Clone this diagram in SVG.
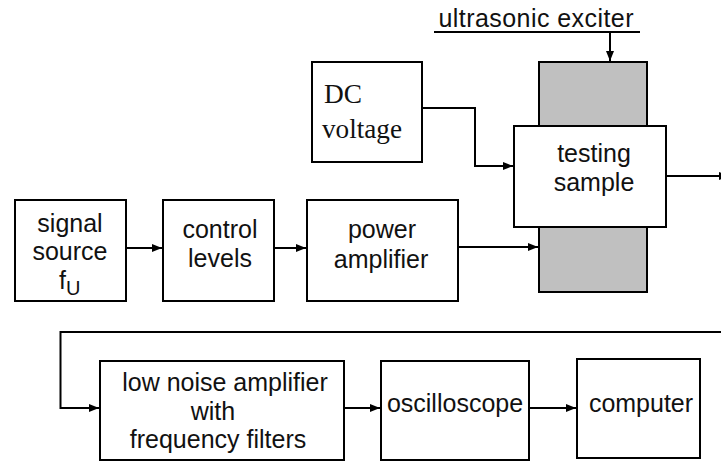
<svg xmlns="http://www.w3.org/2000/svg" width="721" height="462" viewBox="0 0 721 462">
<style>
.box{fill:#fff;stroke:#000;stroke-width:2}
.gray{fill:#c0c0c0;stroke:#000;stroke-width:2}
.t{font-family:"Liberation Sans",Arial,sans-serif;font-size:25px;fill:#111;text-anchor:middle}
.s{font-family:"Liberation Serif","Times New Roman",serif;font-size:27px;fill:#111}
.c{fill:none;stroke:#000;stroke-width:2}
</style>
<defs>
<marker id="ah" markerUnits="userSpaceOnUse" markerWidth="12" markerHeight="12" refX="10" refY="5" orient="auto">
<path d="M0,1 L10,5 L0,9 Z" fill="#000"/>
</marker>
</defs>
<rect width="721" height="462" fill="#fff"/>
<g id="exciter-label">
<text class="t" x="536" y="27" textLength="195" lengthAdjust="spacing">ultrasonic exciter</text>
<line x1="434" y1="32" x2="640" y2="32" stroke="#000" stroke-width="2"/>
</g>
<g id="exciter-body">
<rect class="gray" x="539" y="62" width="108" height="230"/>
</g>
<g id="dc-voltage">
<rect class="box" x="312" y="62" width="110" height="100"/>
<text class="s" x="324" y="103" textLength="38" lengthAdjust="spacingAndGlyphs">DC</text>
<text class="s" x="322" y="138" textLength="80" lengthAdjust="spacingAndGlyphs">voltage</text>
</g>
<g id="testing-sample">
<rect class="box" x="514" y="126" width="152" height="101"/>
<text class="t" x="594" y="162">testing</text>
<text class="t" x="594" y="191">sample</text>
</g>
<g id="signal-source">
<rect class="box" x="15" y="200" width="111" height="101"/>
<text class="t" x="70" y="232">signal</text>
<text class="t" x="70" y="260">source</text>
<text style="font-family:'Liberation Sans',Arial,sans-serif;font-size:25px;fill:#111" x="59" y="289">f<tspan font-size="20" dy="6">U</tspan></text>
</g>
<g id="control-levels">
<rect class="box" x="163" y="200" width="111" height="101"/>
<text class="t" x="220" y="238">control</text>
<text class="t" x="220" y="267">levels</text>
</g>
<g id="power-amplifier">
<rect class="box" x="307" y="200" width="151" height="101"/>
<text class="t" x="382" y="238">power</text>
<text class="t" x="381" y="268">amplifier</text>
</g>
<g id="low-noise-amplifier">
<rect class="box" x="100" y="361" width="244" height="99"/>
<text class="t" x="225" y="391">low noise amplifier</text>
<text class="t" x="213" y="420">with</text>
<text class="t" x="218" y="448">frequency filters</text>
</g>
<g id="oscilloscope">
<rect class="box" x="381" y="361" width="148" height="99"/>
<text class="t" x="455" y="412">oscilloscope</text>
</g>
<g id="computer">
<rect class="box" x="577" y="359" width="123" height="99"/>
<text class="t" x="641" y="412">computer</text>
</g>
<g id="connectors">
<path class="c" d="M126 248 H162" marker-end="url(#ah)"/>
<path class="c" d="M274 248 H306" marker-end="url(#ah)"/>
<path class="c" d="M458 247 H538" marker-end="url(#ah)"/>
<path class="c" d="M422 108 H475 V166 H513" marker-end="url(#ah)"/>
<path class="c" d="M610 32 V61" marker-end="url(#ah)"/>
<path class="c" d="M666 176 H729" marker-end="url(#ah)"/>
<path class="c" d="M722 332 H60.5 V408 H99" marker-end="url(#ah)"/>
<path class="c" d="M344 408 H380" marker-end="url(#ah)"/>
<path class="c" d="M529 408 H576" marker-end="url(#ah)"/>
</g>
</svg>
